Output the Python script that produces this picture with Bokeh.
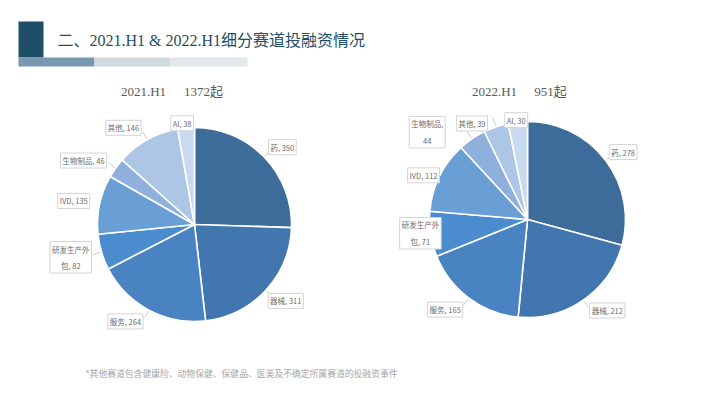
import math
from bokeh.plotting import figure
from bokeh.models import Range1d
from bokeh.core.properties import value
from bokeh.embed import file_html
from bokeh.resources import INLINE

# ---------------- data ----------------
categories = ["药", "器械", "服务", "研发生产外包", "IVD", "生物制品", "其他", "AI"]
values_2021 = [350, 311, 264, 82, 135, 46, 146, 38]
values_2022 = [278, 212, 165, 71, 112, 44, 39, 30]
period_labels = ["2021.H1", "2022.H1"]
total_labels = ["1372起", "951起"]
title_text = "二、2021.H1 & 2022.H1细分赛道投融资情况"
footnote_text = "*其他赛道包含健康险、动物保健、保健品、医美及不确定所属赛道的投融资事件"

# label text formatting (line breaks as in the picture)
label_fmt_2021 = ["{c}, {v}", "{c}, {v}", "{c}, {v}", "研发生产外\n包, {v}", "{c}, {v}", "{c}, {v}", "{c}, {v}", "{c}, {v}"]
label_fmt_2022 = ["{c}, {v}", "{c}, {v}", "{c}, {v}", "研发生产外\n包, {v}", "{c}, {v}", "{c},\n{v}", "{c}, {v}", "{c}, {v}"]

# ---------------- styles / layout ----------------
colors = ["#3d6b9a", "#4176ae", "#4a83c1", "#4b8ccf", "#6a9fd6", "#8fb0dc", "#aec6e6", "#c9d9ef"]
W, H = 710, 399
SERIF = value("Liberation Serif, Noto Sans CJK SC")
CJK = value("Noto Sans CJK SC")

pies = [
    dict(cx=194, cy=224, r=97, vals=values_2021, fmt=label_fmt_2021,
         nudge=[2.7, -2.7, 7.4, 1.7, -0.9, -5.7, -7.2, -2.0],
         dist=[117, 119, 119, 128, 123, 128, 120, 102],
         leader=[1, 1, 1, 1, 0, 1, 1, 0],
         head_x=(143, 203), head_y=91),
    dict(cx=527, cy=219, r=98, vals=values_2022, fmt=label_fmt_2022,
         nudge=[2.2, -6.6, 5.7, 1.3, -3.0, -14.5, -11.3, -0.8],
         dist=[117, 121, 122, 108, 113, 133, 111, 100],
         leader=[1, 1, 1, 0, 0, 1, 1, 0],
         head_x=(494, 550), head_y=91),
]

def Y(sy):
    # screen y (from top of window) -> data y
    return H - sy

p = figure(width=694, height=383, output_backend="svg", toolbar_location=None,
           x_range=Range1d(0, 694), y_range=Range1d(16, 399),
           min_border=0, background_fill_color="white", border_fill_color="white")
p.axis.visible = False
p.xgrid.visible = False
p.ygrid.visible = False
p.outline_line_color = None

# ---------------- header ----------------
p.quad(left=[18], right=[43], top=[Y(21)], bottom=[Y(57)], fill_color="#1f4e67", line_color=None)
p.quad(left=[18, 94, 170], right=[94, 170, 247], top=[Y(57)] * 3, bottom=[Y(66)] * 3,
       fill_color=["#7898b0", "#d1dadf", "#e5e8ea"], line_color=None)
p.text(x=[57], y=[Y(40)], text=[title_text], text_font=SERIF, text_font_size="16px",
       text_color="#1f4e67", text_baseline="middle", text_align="left")

# ---------------- pies ----------------
for i, pie in enumerate(pies):
    cx, cy, r = pie["cx"], Y(pie["cy"]), pie["r"]
    vals = pie["vals"]
    total = sum(vals)
    cum = 0.0
    starts, ends, mids = [], [], []
    for v in vals:
        a1 = cum / total * 360.0
        cum += v
        a2 = cum / total * 360.0
        # clockwise from 12 o'clock -> bokeh counter-clockwise from +x
        starts.append(math.radians(90 - a2))
        ends.append(math.radians(90 - a1))
        mids.append((a1 + a2) / 2)
    p.wedge(x=cx, y=cy, radius=r, start_angle=starts, end_angle=ends,
            fill_color=colors, line_color="white", line_width=1.6)

    lx, ly, texts = [], [], []
    for k, (c, v) in enumerate(zip(categories, vals)):
        ang = math.radians(mids[k] + pie["nudge"][k])
        d = pie["dist"][k]
        lx.append(cx + d * math.sin(ang))
        ly.append(cy + d * math.cos(ang))
        texts.append(pie["fmt"][k].format(c=c, v=v))
        if pie["leader"][k]:
            a = math.radians(mids[k])
            p.line(x=[cx + (r + 1) * math.sin(a), cx + (r + 9) * math.sin(a)],
                   y=[cy + (r + 1) * math.cos(a), cy + (r + 9) * math.cos(a)],
                   line_color="#bfbfbf", line_width=0.8)
    p.text(x=lx, y=ly, text=texts, text_font=CJK, text_font_size="7.5px",
           text_color="#6b6b6b", text_align="center", text_baseline="middle",
           text_line_height=1.5,
           background_fill_color="white", border_line_color="#d4d4d4",
           border_line_width=1, padding=2)

    hx0, hx1 = pie["head_x"]
    p.text(x=[hx0], y=[Y(pie["head_y"])], text=[period_labels[i]], text_font=SERIF,
           text_font_size="13px", text_color="#595959", text_align="center", text_baseline="middle")
    p.text(x=[hx1], y=[Y(pie["head_y"])], text=[total_labels[i]], text_font=SERIF,
           text_font_size="13px", text_color="#595959", text_align="center", text_baseline="middle")

# ---------------- footnote ----------------
p.text(x=[85], y=[Y(373)], text=[footnote_text], text_font=CJK, text_font_size="8.8px",
       text_color="#a6a6a6", text_align="left", text_baseline="middle")

open("out.html", "w").write(file_html(p, INLINE))
